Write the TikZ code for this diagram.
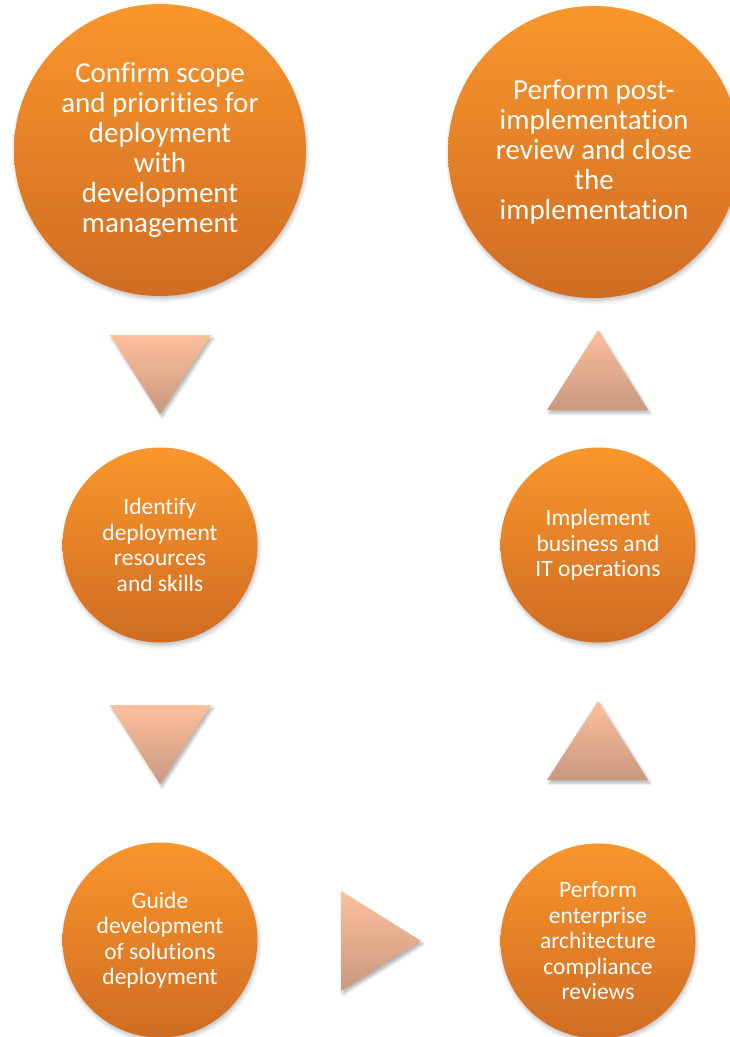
\documentclass[tikz,border=0pt]{standalone}
\usepackage{fontspec}
\setmainfont{Carlito}[Ligatures=NoCommon]
\usetikzlibrary{positioning,shadows.blur}
\definecolor{stepTop}{RGB}{249,150,44}
\definecolor{stepBot}{RGB}{208,108,34}
\definecolor{arrTop}{RGB}{253,192,156}
\definecolor{arrBot}{RGB}{200,152,128}

\begin{document}
\begin{tikzpicture}[x=1pt,y=-1pt,inner sep=0pt]
\tikzstyle{stepnode}=[circle, top color=stepTop, bottom color=stepBot, text=white, align=center,
  blur shadow={shadow xshift=1pt, shadow yshift=-3pt, shadow blur radius=4pt, shadow opacity=25}]
\tikzstyle{big}=[stepnode, minimum size=292pt, font=\fontsize{29}{30}\selectfont]
\tikzstyle{small}=[stepnode, minimum size=195pt, font=\fontsize{23.5}{25.5}\selectfont]
\tikzstyle{arrowfill}=[top color=arrTop, bottom color=arrBot,
  blur shadow={shadow xshift=2pt, shadow yshift=-3pt, shadow blur radius=3pt, shadow opacity=30}]
\useasboundingbox (0,0) rectangle (730,1037);
\node[big] (confirm) at (160,150) {Confirm scope\\and priorities for\\deployment\\with\\development\\management};
\node[big] (review) at (594,152) {Perform post-\\implementation\\review and close\\the\\implementation};
\node[small] (identify) at (160,545) {Identify\\deployment\\resources\\and skills};
\node[small] (implement) at (598,545) {Implement\\business and\\IT operations};
\node[small] (guide) at (160,940) {Guide\\development\\of solutions\\deployment};
\node[small] (compliance) at (598,941) {Perform\\enterprise\\architecture\\compliance\\reviews};
% arrows between steps
\shade[arrowfill] (110,335) -- (211,335) -- (160,414) -- cycle;
\shade[arrowfill] (110,705) -- (211,705) -- (160,784) -- cycle;
\shade[arrowfill] (341,891) -- (421,941) -- (341,991) -- cycle;
\shade[arrowfill] (547,780) -- (648,780) -- (598,701) -- cycle;
\shade[arrowfill] (547,410) -- (648,410) -- (598,330) -- cycle;
\end{tikzpicture}
\end{document}
